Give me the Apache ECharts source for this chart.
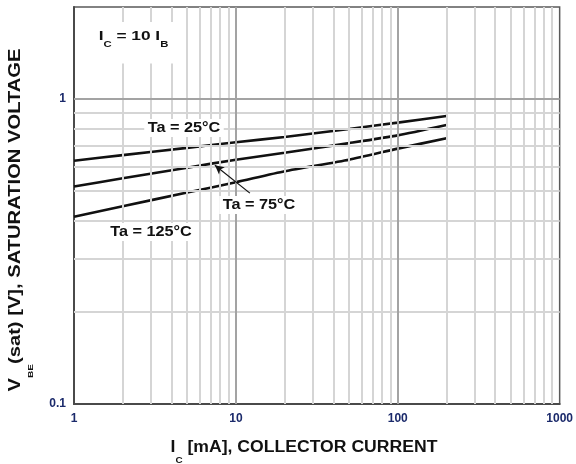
<!DOCTYPE html>
<html>
<head>
<meta charset="utf-8">
<script src="https://cdn.jsdelivr.net/npm/echarts@6/dist/echarts.min.js"></script>
<style>
  html, body { margin: 0; padding: 0; background: #ffffff; }
  #chart { width: 576px; height: 464px; }
</style>
</head>
<body>
<div id="chart"></div>
<script>
// Collector current (mA) sample points
const currentMA = [1, 2, 5, 10, 20, 50, 100, 200];
// VBE(sat) in volts at each ambient temperature
const vbe25 = [0.627, 0.654, 0.691, 0.721, 0.750, 0.797, 0.836, 0.879];
const vbe75 = [0.516, 0.549, 0.595, 0.632, 0.666, 0.716, 0.759, 0.821];
const vbe125 = [0.411, 0.445, 0.493, 0.533, 0.579, 0.632, 0.687, 0.743];

// Tick labels shown on the decades
const xTickLabels = ['1', '10', '100', '1000'];
const yTickLabels = ['0.1', '1'];

// Log grid lines
const xMinorGrid = [2, 3, 4, 5, 6, 7, 8, 9, 20, 30, 40, 50, 60, 70, 80, 90, 200, 300, 400, 500, 600, 700, 800, 900];
const xMajorGrid = [10, 100];
const yMinorGrid = [0.2, 0.3, 0.4, 0.5, 0.6, 0.7, 0.8, 0.9];
const yMajorGrid = [1];

// Pointer from the 75°C label to its curve: [current, voltage] pairs
const arrowFrom = [12.2, 0.491];
const arrowTo = [7.42, 0.606];

const FONT = '"Liberation Sans", Arial, sans-serif';
const TICK_COLOR = '#1b2a6b';
const MINOR = '#d5d5d5';
const MAJOR = '#a3a3a3';

function decadeLabel(list) {
  return function (v) {
    const lg = Math.log10(v);
    if (Math.abs(lg - Math.round(lg)) > 1e-6) return '';
    const s = String(+v.toPrecision(6));
    return list.indexOf(s) >= 0 ? s : '';
  };
}

const gridLines = []
  .concat(xMinorGrid.map(v => ({ xAxis: v, lineStyle: { color: MINOR, width: 2, type: 'solid' } })))
  .concat(yMinorGrid.map(v => ({ yAxis: v, lineStyle: { color: MINOR, width: 2, type: 'solid' } })))
  .concat(xMajorGrid.map(v => ({ xAxis: v, lineStyle: { color: MAJOR, width: 2, type: 'solid' } })))
  .concat(yMajorGrid.map(v => ({ yAxis: v, lineStyle: { color: MAJOR, width: 2, type: 'solid' } })));

function curve(name, values) {
  return {
    name: name,
    type: 'line',
    z: 3,
    showSymbol: false,
    smooth: 0.2,
    silent: true,
    data: currentMA.map((x, i) => [x, values[i]]),
    lineStyle: { color: '#111111', width: 2.6 }
  };
}

// Rich-text styles: main text on top of the line box, subscript pushed to its bottom
function richStyles(mainSize, subSize, subLine) {
  return {
    m: { fontSize: mainSize, fontWeight: 'bold', fontFamily: FONT, lineHeight: mainSize + 2, verticalAlign: 'top', fill: '#111111' },
    s: { fontSize: subSize, fontWeight: 'bold', fontFamily: FONT, lineHeight: subLine, verticalAlign: 'bottom', fill: '#111111' }
  };
}

function tempLabel(text, x, y) {
  return {
    type: 'text', z: 10, x: x, y: y, scaleX: 1.16,
    style: {
      text: text, align: 'center', verticalAlign: 'middle',
      font: 'bold 14px ' + FONT, fill: '#111111',
      backgroundColor: '#ffffff', padding: [2, 3, 2, 3]
    }
  };
}

const chart = echarts.init(document.getElementById('chart'), null, { renderer: 'canvas' });

const series75 = curve('Ta = 75°C', vbe75);
series75.markLine = {
  silent: true,
  symbol: ['none', 'arrow'],
  symbolSize: [7, 9],
  label: { show: false },
  lineStyle: { color: '#111111', width: 1.2, type: 'solid' },
  data: [[{ coord: arrowFrom }, { coord: arrowTo }]]
};

chart.setOption({
  animation: false,
  backgroundColor: '#ffffff',
  grid: {
    left: 74, right: 16, top: 7, bottom: 60,
    show: true, borderColor: '#5a5a5a', borderWidth: 1.5, backgroundColor: '#ffffff'
  },
  xAxis: {
    type: 'log', logBase: 10, min: 1, max: 1000,
    axisLine: { show: true, lineStyle: { color: '#4a4a4a', width: 2 } },
    axisTick: { show: false },
    splitLine: { show: false },
    axisLabel: {
      margin: 9, fontSize: 12, fontWeight: 'bold', fontFamily: FONT, color: TICK_COLOR,
      formatter: decadeLabel(xTickLabels), showMaxLabel: true, hideOverlap: false
    }
  },
  yAxis: {
    type: 'log', logBase: 10, min: 0.1, max: 2,
    z: 2,
    axisLine: { show: true, lineStyle: { color: '#4a4a4a', width: 2 } },
    axisTick: {
      show: true, inside: true, length: 4,
      customValues: yMinorGrid,
      lineStyle: { color: '#555555', width: 1.5 }
    },
    splitLine: { show: false },
    axisLabel: {
      margin: 8, fontSize: 12, fontWeight: 'bold', fontFamily: FONT, color: TICK_COLOR,
      formatter: decadeLabel(yTickLabels)
    }
  },
  series: [
    {
      name: 'grid',
      type: 'line',
      z: 1,
      silent: true,
      showSymbol: false,
      data: [[1, 0.1]],
      lineStyle: { opacity: 0 },
      markLine: {
        silent: true,
        symbol: 'none',
        label: { show: false },
        animation: false,
        data: gridLines
      }
    },
    curve('Ta = 25°C', vbe25),
    series75,
    curve('Ta = 125°C', vbe125)
  ],
  graphic: [
    {
      type: 'text', z: 10, x: 96, y: 22, scaleX: 1.33,
      style: {
        text: '{m|I}{s|C}{m| = 10 I}{s|B}',
        align: 'left', verticalAlign: 'top',
        backgroundColor: '#ffffff', padding: [8, 10, 14, 2],
        fill: '#111111',
        rich: richStyles(13, 8.5, 19.5)
      }
    },
    tempLabel('Ta = 25°C', 184, 128),
    tempLabel('Ta = 75°C', 259, 205),
    tempLabel('Ta = 125°C', 151, 232),
    {
      type: 'text', z: 10, x: 304, y: 452, scaleX: 1.1,
      style: {
        text: '{m|I}{s|C}{m| [mA], COLLECTOR CURRENT}',
        align: 'center', verticalAlign: 'middle',
        fill: '#111111',
        rich: richStyles(16, 9, 25.5)
      }
    },
    {
      type: 'text', z: 10, x: 21, y: 220, rotation: Math.PI / 2, scaleX: 1.26,
      style: {
        text: '{m|V}{s|BE}{m|(sat) [V], SATURATION VOLTAGE}',
        align: 'center', verticalAlign: 'middle',
        fill: '#111111',
        rich: richStyles(16, 8, 27)
      }
    }
  ]
});
</script>
</body>
</html>
